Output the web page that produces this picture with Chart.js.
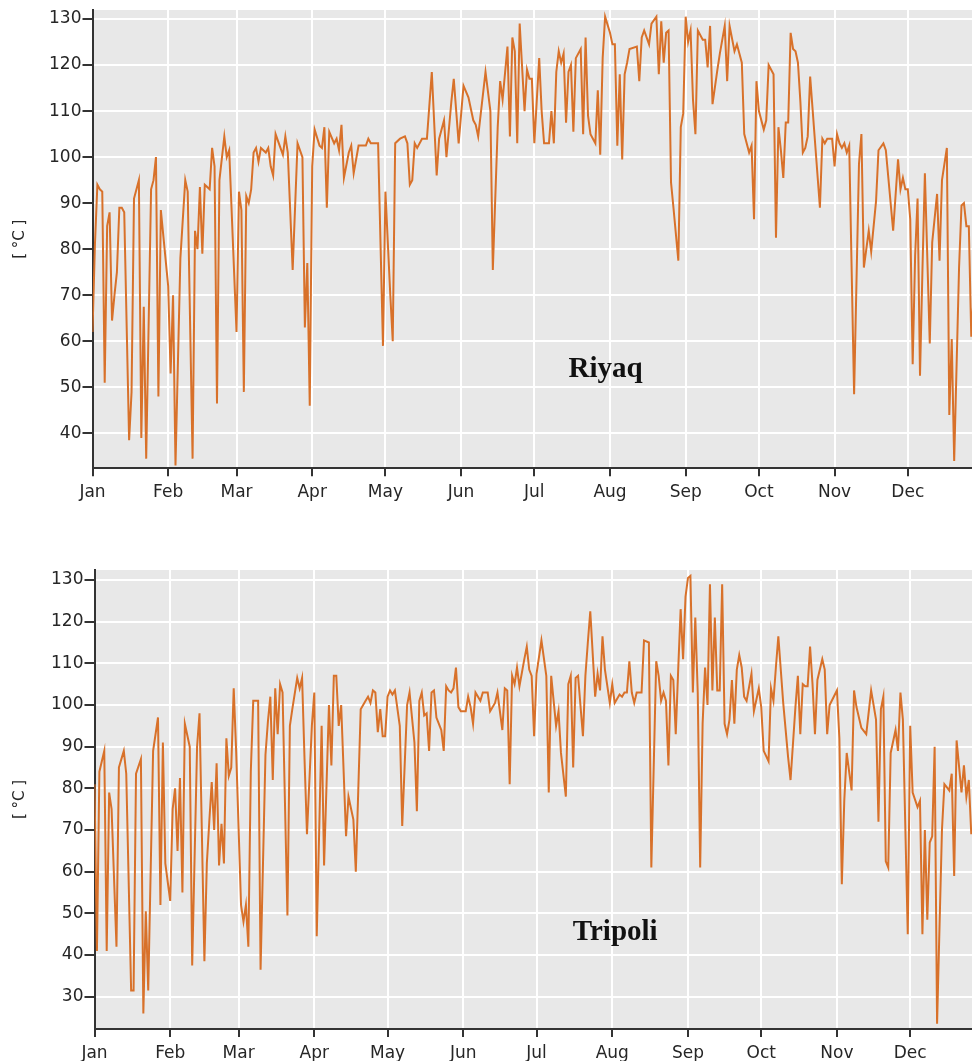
<!DOCTYPE html>
<html>
<head>
<meta charset="utf-8">
<script src="https://cdn.jsdelivr.net/npm/chart.js@4.4.0/dist/chart.umd.min.js"></script>
<style>
  html, body { margin: 0; padding: 0; background: #fff; overflow: hidden; }
  #wrap { position: relative; width: 972px; height: 1061px; }
  canvas { position: absolute; left: 0; }
</style>
</head>
<body>
<div id="wrap">
  <canvas id="riyaq_Chart" width="972" height="520" style="top:0px"></canvas>
  <canvas id="tripoli_Chart" width="972" height="501" style="top:560px"></canvas>
</div>
<script>
// day of year where each month starts, and its label
const monthDays = [0, 31, 59, 90, 120, 151, 181, 212, 243, 273, 304, 334];
const monthLabels = ['Jan', 'Feb', 'Mar', 'Apr', 'May', 'Jun', 'Jul', 'Aug', 'Sep', 'Oct', 'Nov', 'Dec'];

const riyaqTicks = [40, 50, 60, 70, 80, 90, 100, 110, 120, 130];
const tripoliTicks = [30, 40, 50, 60, 70, 80, 90, 100, 110, 120, 130];

// Riyaq : day of year / value
const riyaqDay = [0,1,2,3,4,5,6,7,8,9,10,11,12,13,15,16,17,19,20,21,22,24,25,26,27,28,31,32,33,34,36,38,39,41,42,43,44,45,46,48,49,50,51,52,54,55,56,59,60,61,62,63,64,65,66,67,68,69,71,72,73,74,75,77,78,79,80,82,84,86,87,88,89,90,91,
  93,94,95,96,97,99,100,101,102,103,105,106,107,109,112,113,114,117,119,120,122,123,124,126,128,129,130,131,132,133,135,137,139,141,142,144,145,147,148,150,152,154,156,157,158,161,163,164,166,167,168,170,171,172,173,174,175,177,178,179,180,181,183,184,185,187,188,189,190,191,192,193,194,195,196,197,198,200,201,202,203,204,206,207,208,209,210,212,213,214,215,216,217,218,219,220,223,224,
  225,226,228,229,231,232,233,234,235,236,237,238,240,241,242,243,244,245,246,247,248,250,251,252,253,254,256,257,259,260,261,263,264,265,266,267,269,270,271,272,273,275,276,277,279,280,281,282,283,284,285,286,287,288,289,290,291,292,293,294,298,299,300,301,303,304,305,306,307,308,309,310,312,314,315,316,318,319,321,322,324,325,328,330,331,332,333,334,335,336,337,338,339,340,341,343,344,346,347,348,350,351,352,353,355,356,357,358,359,360,361];
const riyaqTemp = [62,81,94,93,92.5,51,85,88,64.5,70,75,89,89,88,38.5,49,91,95,39,67.5,34.5,93,95,100,48,88.5,72,53,70,33,78,95,92.5,34.5,84,80,93.5,79,94,93,102,98,46.5,95,104.5,100,101.5,62,92.5,88.5,49,91.5,90,93,101,102,99,102,101,102,98,96,105,102,100.5,104.5,101,75.5,103,100,63,77,46,98,106,
  102.5,102,106.5,89,105.5,103,104,101.5,107,95.5,101,102.5,96.5,102.5,102.5,104,103,103,59,92.5,70,60,103,104,104.5,103,94,95,103,102,104,104,118.5,96,104,108,100,112,117,103,115.5,113,108,107,104.5,118.5,110,75.5,106.5,116.5,112.5,124,104.5,126,123,103,129,110,119,117,117,103,121.5,110,103,103,110,103,118.5,123,120.5,122.5,107.5,118.5,120,105.5,121.5,123.5,105,126,109,105,103,114.5,100.5,121.5,130.5,127,124.5,124.5,102.5,118,99.5,118,120.5,123.5,124,116.5,
  126,127.5,124.5,129,130.5,118,129.5,120.5,127,127.5,94.5,89,77.5,106.5,109.5,130.5,125,127.5,112.5,105,127.5,125.5,125.5,119.5,128.5,111.5,119,122.5,128.5,116.5,128.5,123,124.5,122.5,120.5,105,101,102.5,86.5,116.5,110,106,108,120,118,82.5,106.5,101.5,95.5,107.5,107.5,127,123.5,123,120.5,112,101,102,104.5,117.5,89,104,103,104,104,98,105,103,102,103,101,102.5,48.5,98.5,105,76,84,79.5,90.5,101.5,103,101.5,84,99.5,93,95.5,93,93,86.5,55,78.5,91,52.5,75.5,96.5,59.5,81.5,92,77.5,95,102,44,60.5,34,76,89.5,90,85,85,61,70];

// Tripoli : day of year / value
const tripoliDay = [0,1,2,4,5,6,7,9,10,12,13,15,16,17,19,20,21,22,24,26,27,28,29,31,32,33,34,35,36,37,39,40,42,43,45,46,47,48,49,50,51,52,53,54,55,56,57,58,60,61,62,63,64,65,67,68,70,71,72,73,74,75,76,77,79,80,81,83,84,85,86,87,89,90,91,
  93,94,96,97,98,99,100,101,103,104,106,107,108,109,111,112,113,114,115,116,117,118,119,120,121,122,123,125,126,128,129,131,132,133,134,135,136,137,138,139,140,142,143,144,145,146,147,148,149,150,152,153,154,155,156,158,159,161,162,164,165,167,168,169,170,171,172,173,174,176,177,178,179,180,181,183,185,186,187,189,190,191,193,194,195,196,197,198,200,201,202,203,205,206,207,208,209,211,212,213,215,216,217,
  218,219,220,221,222,224,225,227,228,230,231,232,233,234,235,236,237,238,239,240,241,242,243,244,245,246,247,248,249,250,251,252,253,254,255,256,257,258,259,260,261,262,263,264,265,266,267,269,270,272,273,274,276,277,278,279,280,282,284,285,287,288,289,290,291,292,293,294,295,296,298,299,300,301,304,305,306,307,308,310,311,312,314,316,318,320,321,322,323,324,325,326,328,329,330,331,333,334,335,337,338,339,340,341,342,343,344,345,347,348,350,351,352,353,355,356,357,358,359];
const tripoliTemp = [81,41,84,89,41,79,75,42,85,89,83.5,31.5,31.5,83.5,87,26,50.5,31.5,89,97,52,91,62,53,75,80,65,82.5,55,95.5,90,37.5,90,98,38.5,62,72,81.5,70,86,61.5,71.5,62,92,83,85,104,89,52,48,52,42,84,101,101,36.5,88,96,102,82,104,93,105,103,49.5,95,99,106.5,104,106.5,87,69,95,103,44.5,
  95,61.5,100,85.5,107,107,95,100,68.5,78,72.5,60,79.5,99,101,102,100.5,103.5,103,93.5,99,92.5,92.5,102,103.5,102.5,103.5,95,71,100,103,91,74.5,101,103,97.5,98,89,103,103.5,97,94,89,104.5,103.5,103,104,109,99.5,98.5,98.5,102,99.5,95.5,103,101,103,103,98.5,100.5,103,94,104,103.5,81,107,105,109,104.5,111,114,108.5,107,92.5,107.5,115.5,107,79,107,95,98.5,88.5,78,105,107,85,106.5,107,92.5,107,115,122.5,102,107.5,103.5,116.5,108.5,100.5,105,100.5,102.5,102,103,
  103,110.5,103,100.5,103,103,115.5,115,61,110.5,107,101,103,101,85.5,107,106,93,108.5,123,111,126,130.5,131,103,121,103,61,95.5,109,100,129,103.5,121,103.5,103.5,129,95.5,93,96.5,106,95.5,108.5,112,109,102,101,107.5,98.5,104,99.5,89,86.5,104,101,109,116.5,100.5,87.5,82,99.5,107,93,105,104.5,104.5,114,105,93,106,111,108.5,93,100,103.5,92,57,77,88.5,79.5,103.5,99.5,94.5,93,103.5,96.5,72,99,102,62.5,61,88.5,94,89,103,96.5,45,95,79,75.5,77,45,70,48.5,67,68.5,90,23.5,70,81,79.5,83.5,59,91.5,79,85.5,78,82,69];

const panelPlugin = {
  id: 'panel',
  beforeDraw(chart) {
    const a = chart.chartArea;
    const ctx = chart.ctx;
    ctx.save();
    ctx.fillStyle = '#e8e8e8';
    ctx.fillRect(a.left, a.top, a.right - a.left, a.bottom - a.top);
    ctx.restore();
  },
  afterDatasetsDraw(chart, args, o) {
    const ctx = chart.ctx;
    ctx.save();
    ctx.font = 'bold 29px "Liberation Serif", "Times New Roman", serif';
    ctx.fillStyle = '#111';
    ctx.textAlign = 'center';
    ctx.textBaseline = 'alphabetic';
    ctx.fillText(o.text, chart.scales.x.getPixelForValue(o.atDay), chart.scales.y.getPixelForValue(o.atTemp));
    ctx.restore();
  }
};

const textColor = '#262626';
const axisColor = '#333333';

function makeChart(id, days, temps, yTicks, s) {
  const ctx = document.getElementById(id).getContext('2d');
  return new Chart(ctx, {
    type: 'line',
    data: {
      datasets: [{
        data: days.map((d, i) => ({ x: d, y: temps[i] })),
        borderColor: '#d8712a',
        borderWidth: 2,
        pointRadius: 0,
        tension: 0,
        fill: false
      }]
    },
    options: {
      responsive: false,
      animation: false,
      devicePixelRatio: 1,
      layout: { padding: { top: 10, left: 0, right: 0, bottom: 0 } },
      plugins: {
        legend: { display: false },
        tooltip: { enabled: false },
        panel: { text: s.title, atDay: s.titleDay, atTemp: s.titleTemp }
      },
      scales: {
        x: {
          type: 'linear',
          min: 0,
          max: s.xMax,
          afterBuildTicks: sc => { sc.ticks = monthDays.map(v => ({ value: v })); },
          afterFit: sc => {
            sc.height = s.xAxisH;
            sc.paddingLeft = 0; sc.paddingRight = 0; sc.paddingTop = 0; sc.paddingBottom = 0;
          },
          ticks: {
            callback: (v, i) => monthLabels[i],
            color: textColor,
            font: { family: '"DejaVu Sans", Verdana, sans-serif', size: 17 },
            padding: 6,
            maxRotation: 0,
            autoSkip: false
          },
          grid: { color: '#ffffff', lineWidth: 2, tickColor: axisColor, tickLength: 8, tickWidth: 2 },
          border: { color: axisColor, width: 2 }
        },
        y: {
          min: s.yMin,
          max: s.yMax,
          afterBuildTicks: sc => { sc.ticks = yTicks.map(v => ({ value: v })); },
          afterFit: sc => {
            sc.width = s.left;
            sc.paddingLeft = 0; sc.paddingRight = 0; sc.paddingTop = 0; sc.paddingBottom = 0;
          },
          ticks: {
            color: textColor,
            font: { family: '"DejaVu Sans", Verdana, sans-serif', size: 17 },
            padding: 1
          },
          grid: { color: '#ffffff', lineWidth: 2, tickColor: axisColor, tickLength: 10, tickWidth: 2 },
          border: { color: axisColor, width: 2 },
          title: {
            display: true,
            text: '[ °C ]',
            color: textColor,
            font: { family: '"DejaVu Sans", Verdana, sans-serif', size: 15 },
            padding: { top: 11, bottom: 0 }
          }
        }
      }
    },
    plugins: [panelPlugin]
  });
}

makeChart('riyaq_Chart', riyaqDay, riyaqTemp, riyaqTicks, {
  title: 'Riyaq', titleDay: 210.2, titleTemp: 52.3,
  left: 92.5, xAxisH: 51.7, xMax: 360.3, yMin: 32.4, yMax: 131.96
});

makeChart('tripoli_Chart', tripoliDay, tripoliTemp, tripoliTicks, {
  title: 'Tripoli', titleDay: 213.2, titleTemp: 43.6,
  left: 94.5, xAxisH: 32, xMax: 359.3, yMin: 22.25, yMax: 132.4
});
</script>
</body>
</html>
